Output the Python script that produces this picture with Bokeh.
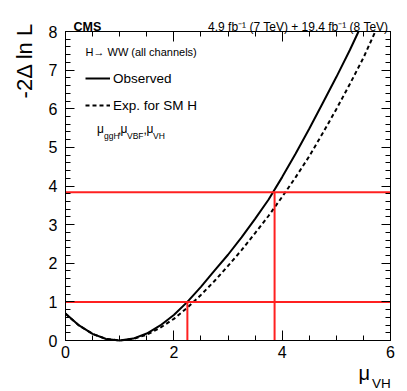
import math
from bokeh.plotting import figure
from bokeh.models import (Label, Legend, LegendItem, FixedTicker, LinearAxis,
                          Range1d)
from bokeh.embed import file_html
from bokeh.resources import INLINE

# ---- data ----
obs_mu = [0.0, 0.25, 0.5, 0.75, 1.0, 1.25, 1.5, 1.75, 2.0, 2.25, 2.5, 2.75,
          3.0, 3.25, 3.5, 3.75, 4.0, 4.25, 4.5, 4.75, 5.0, 5.25, 5.41]
observed_nll = [0.70, 0.39, 0.17, 0.04, 0.00, 0.05, 0.18, 0.39, 0.66, 1.00, 1.39, 1.81,
                2.22, 2.67, 3.15, 3.65, 4.23, 4.84, 5.48, 6.15, 6.82, 7.52, 8.00]
exp_mu = [0.0, 0.25, 0.5, 0.75, 1.0, 1.25, 1.5, 1.75, 2.0, 2.25, 2.5, 2.75,
          3.0, 3.25, 3.5, 3.75, 4.0, 4.25, 4.5, 4.75, 5.0, 5.25, 5.5, 5.72]
expected_nll = [0.69, 0.39, 0.17, 0.04, 0.00, 0.04, 0.15, 0.33, 0.56, 0.85, 1.18, 1.54,
                1.93, 2.34, 2.78, 3.23, 3.72, 4.23, 4.77, 5.37, 5.99, 6.64, 7.32, 8.00]
cl_levels = [1.0, 3.84]
observed_crossings = [2.25, 3.86]
x_major_ticks = [0, 2, 4, 6]
x_minor_ticks = [0, 0.5, 1, 1.5, 2, 2.5, 3, 3.5, 4, 4.5, 5, 5.5, 6]
y_major_ticks = [0, 1, 2, 3, 4, 5, 6, 7, 8]
y_minor_ticks = [round(i * 0.2, 1) for i in range(41)]

FONT = "Liberation Sans"

# canvas and plot-box geometry in pixels (canvas covers the page)
W, H = 400, 390
FX0, FX1, FY0, FY1 = 65.0, 390.0, 31.0, 340.0
XMIN, XMAX, YMIN, YMAX = 0.0, 6.0, 0.0, 8.0
SX = (FX1 - FX0) / (XMAX - XMIN)
SY = (FY1 - FY0) / (YMAX - YMIN)

x_range = Range1d(XMIN - FX0 / SX, XMAX + (W - FX1) / SX)
y_range = Range1d(YMIN - (H - FY1) / SY, YMAX + FY0 / SY)


def to_data(px, py):
    return XMIN + (px - FX0) / SX, YMIN + (FY1 - py) / SY


p = figure(width=W, height=H, output_backend="svg", toolbar_location=None,
           x_range=x_range, y_range=y_range, x_axis_type=None,
           y_axis_type=None, min_border=0, min_border_left=0,
           min_border_right=0, min_border_top=0, min_border_bottom=0)
p.outline_line_color = None
p.background_fill_color = "white"
p.border_fill_color = "white"
p.xgrid.visible = False
p.ygrid.visible = False


def make_axis(place, loc, bounds, major, minor, maj_len, min_len, labels,
              standoff):
    ax = LinearAxis(fixed_location=loc, bounds=bounds,
                    ticker=FixedTicker(ticks=major, minor_ticks=minor))
    ax.major_tick_in = maj_len
    ax.major_tick_out = 0
    ax.minor_tick_in = min_len
    ax.minor_tick_out = 0
    ax.axis_line_color = "black"
    ax.axis_line_width = 1
    ax.major_tick_line_color = "black"
    ax.minor_tick_line_color = "black"
    ax.major_label_text_font = FONT
    ax.major_label_text_font_size = "16px"
    if labels:
        ax.major_label_text_color = "black"
        ax.major_label_standoff = standoff
    else:
        ax.major_label_text_color = None
        ax.major_label_standoff = 0
    p.add_layout(ax, place)
    return ax


make_axis("below", YMIN, (XMIN, XMAX), x_major_ticks, x_minor_ticks, 10, 5, True, 5)
make_axis("above", YMAX, (XMIN, XMAX), x_major_ticks, x_minor_ticks, 10, 5, False, 0)
make_axis("left", XMIN, (YMIN, YMAX), y_major_ticks, y_minor_ticks, 9, 5, True, 8)
make_axis("right", XMAX, (YMIN, YMAX), y_major_ticks, y_minor_ticks, 9, 5, False, 0)

# curves
obs_r = p.line(obs_mu, observed_nll, line_color="black", line_width=2)
exp_r = p.line(exp_mu, expected_nll, line_color="black", line_width=2,
               line_dash="4 3")

# red confidence level lines
RED = "#ff2020"
p.segment(x0=[XMIN] * len(cl_levels), y0=cl_levels,
          x1=[XMAX] * len(cl_levels), y1=cl_levels,
          line_color=RED, line_width=2)
p.segment(x0=observed_crossings, y0=[YMIN] * len(observed_crossings),
          x1=observed_crossings, y1=cl_levels, line_color=RED, line_width=2)

# legend
legend = Legend(items=[LegendItem(label="Observed", renderers=[obs_r]),
                       LegendItem(label="Exp. for SM H", renderers=[exp_r])],
                location=(85, 275), padding=0, margin=0, spacing=7,
                glyph_width=25, glyph_height=20, label_height=20,
                label_standoff=3, border_line_color=None,
                background_fill_alpha=0, label_text_font=FONT,
                label_text_font_size="13.5px", label_text_color="black")
p.add_layout(legend)


def lab(text, px, py, size, align="left", baseline="alphabetic",
        bold=False, angle=0.0):
    x, y = to_data(px, py)
    p.add_layout(Label(x=x, y=y, text=text, text_font=FONT,
                       text_font_size=size, text_align=align,
                       text_baseline=baseline, angle=angle,
                       text_font_style="bold" if bold else "normal",
                       text_color="black"))


# header
lab("CMS", 73, 26, "12.5px", bold=True)
lab("4.9 fb\u207b\u00b9 (7 TeV) + 19.4 fb\u207b\u00b9 (8 TeV)", 388, 26, "12px",
    align="right")

# legend header and parameters
lab("H\u2192 WW (all channels)", 85, 51, "11px", baseline="middle")
lab("\u03bc", 96.5, 128.5, "12px")
lab("ggH", 103.5, 135, "8.5px")
lab(",", 117.5, 128.5, "12px")
lab("\u03bc", 120, 128.5, "12px")
lab("VBF", 126.5, 135, "8.5px")
lab(",", 143, 128.5, "12px")
lab("\u03bc", 146, 128.5, "12px")
lab("VH", 152.5, 135, "8.5px")

# axis titles
lab("-2\u0394 ln L", 24, 60, "22px", align="center", baseline="middle",
    angle=math.pi / 2)
lab("\u03bc", 358, 372, "20px")
lab("VH", 371.5, 382.5, "13.5px")

open("out.html", "w").write(file_html(p, INLINE))
